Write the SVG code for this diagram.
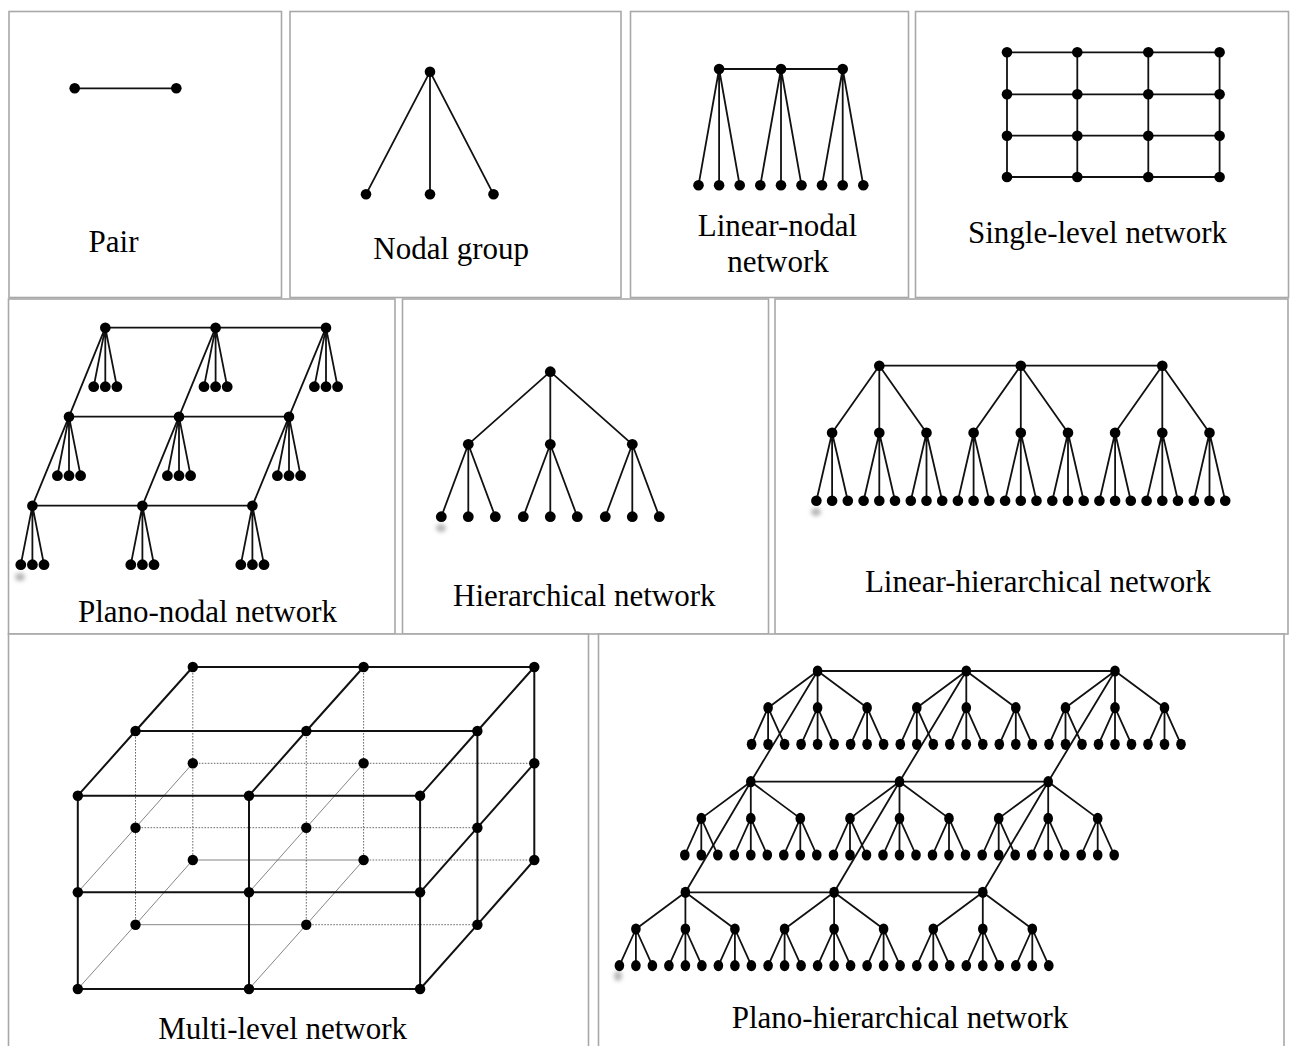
<svg xmlns="http://www.w3.org/2000/svg" xmlns:xlink="http://www.w3.org/1999/xlink" width="1293" height="1046" viewBox="0 0 1293 1046">
<style>
.panel{fill:#fff;stroke:#a8a8a8;stroke-width:1.6}
.e{fill:none;stroke:#111;stroke-width:1.8;stroke-linecap:round}
.eb{fill:none;stroke:#111;stroke-width:2;stroke-linecap:round}
.et{fill:none;stroke:#666;stroke-width:0.8}
.ed{fill:none;stroke:#444;stroke-width:0.8;stroke-dasharray:1.6 1.4}
.n{fill:#000}
.lbl{font-family:"Liberation Serif","Times New Roman",serif;font-size:31px;fill:#000;text-anchor:middle}
.smudge{fill:#b5b5b5;filter:url(#blur)}
</style>
<defs>
<filter id="blur" x="-1" y="-1" width="3" height="3"><feGaussianBlur stdDeviation="2"/></filter>
<g id="pn-fan">
<path class="e" d="M0,0 L-11.6,59 M0,0 V59 M0,0 L11.6,59"/>
<circle class="n" cx="0" cy="0" r="5.3"/>
<circle class="n" cx="-11.6" cy="59" r="5.4"/>
<circle class="n" cx="0" cy="59" r="5.4"/>
<circle class="n" cx="11.6" cy="59" r="5.4"/>
</g>
<g id="lh-tree">
<path class="e" d="M0,0 L-47.2,67 M0,0 V67 M0,0 L47.2,67 M-47.2,67 L-62.9,135 M-47.2,67 V135 M-47.2,67 L-31.5,135 M0,67 L-15.7,135 M0,67 V135 M0,67 L15.7,135 M47.2,67 L31.5,135 M47.2,67 V135 M47.2,67 L62.9,135"/>
<circle class="n" cx="0" cy="0" r="5.3"/>
<circle class="n" cx="-47.2" cy="67" r="5.3"/>
<circle class="n" cx="0" cy="67" r="5.3"/>
<circle class="n" cx="47.2" cy="67" r="5.3"/>
<circle class="n" cx="-62.9" cy="135" r="5.3"/>
<circle class="n" cx="-47.2" cy="135" r="5.3"/>
<circle class="n" cx="-31.5" cy="135" r="5.3"/>
<circle class="n" cx="-15.7" cy="135" r="5.3"/>
<circle class="n" cx="0" cy="135" r="5.3"/>
<circle class="n" cx="15.7" cy="135" r="5.3"/>
<circle class="n" cx="31.5" cy="135" r="5.3"/>
<circle class="n" cx="47.2" cy="135" r="5.3"/>
<circle class="n" cx="62.9" cy="135" r="5.3"/>
</g>
<g id="ph-tree">
<path class="e" d="M0,0 L-49.5,36.7 M0,0 V36.7 M0,0 L49.5,36.7 M-49.5,36.7 L-66,73.3 M-49.5,36.7 V73.3 M-49.5,36.7 L-33,73.3 M0,36.7 L-16.5,73.3 M0,36.7 V73.3 M0,36.7 L16.5,73.3 M49.5,36.7 L33,73.3 M49.5,36.7 V73.3 M49.5,36.7 L66,73.3"/>
<ellipse class="n" cx="0" cy="0" rx="4.8" ry="5.6"/>
<ellipse class="n" cx="-49.5" cy="36.7" rx="4.8" ry="5.6"/>
<ellipse class="n" cx="0" cy="36.7" rx="4.8" ry="5.6"/>
<ellipse class="n" cx="49.5" cy="36.7" rx="4.8" ry="5.6"/>
<ellipse class="n" cx="-66" cy="73.3" rx="4.8" ry="5.6"/>
<ellipse class="n" cx="-49.5" cy="73.3" rx="4.8" ry="5.6"/>
<ellipse class="n" cx="-33" cy="73.3" rx="4.8" ry="5.6"/>
<ellipse class="n" cx="-16.5" cy="73.3" rx="4.8" ry="5.6"/>
<ellipse class="n" cx="0" cy="73.3" rx="4.8" ry="5.6"/>
<ellipse class="n" cx="16.5" cy="73.3" rx="4.8" ry="5.6"/>
<ellipse class="n" cx="33" cy="73.3" rx="4.8" ry="5.6"/>
<ellipse class="n" cx="49.5" cy="73.3" rx="4.8" ry="5.6"/>
<ellipse class="n" cx="66" cy="73.3" rx="4.8" ry="5.6"/>
</g>
</defs>
<rect width="1293" height="1046" fill="#fff"/>

<g id="panels">
<rect class="panel" x="9" y="11.5" width="272.5" height="286"/>
<rect class="panel" x="290" y="11.5" width="331" height="286"/>
<rect class="panel" x="630.5" y="11.5" width="278" height="286"/>
<rect class="panel" x="915.5" y="11.5" width="373" height="286"/>
<rect class="panel" x="8.5" y="299" width="386.5" height="335"/>
<rect class="panel" x="402.5" y="299" width="366" height="335"/>
<rect class="panel" x="775" y="299" width="513" height="335"/>
<rect class="panel" x="8.5" y="634" width="580" height="420"/>
<rect class="panel" x="598.5" y="634" width="685.5" height="420"/>
</g>

<g id="connectors">
<path id="c-pair" class="e" d="M74.7,88.3 H176.3"/>
<path id="c-nodal" class="e" d="M430,71.7 L366,194.3 M430,71.7 V194.3 M430,71.7 L493.5,194.3"/>
<path id="c-linear-nodal" class="e" d="M719.1,69 H842.7 M719.1,69 L698.5,185.3 M719.1,69 V185.3 M719.1,69 L739.7,185.3 M781,69 L760.3,185.3 M781,69 V185.3 M781,69 L801.5,185.3 M842.7,69 L822,185.3 M842.7,69 V185.3 M842.7,69 L863.3,185.3"/>
<path id="c-single" class="e" d="M1007,52.3 H1219.6 M1007,94.3 H1219.6 M1007,135.7 H1219.6 M1007,177 H1219.6 M1007,52.3 V177 M1077.3,52.3 V177 M1148.3,52.3 V177 M1219.6,52.3 V177"/>
<path id="c-plano-nodal" class="e" d="M105.3,327.7 H326 M69,416.7 H289 M32.4,505.7 H252.4 M105.3,327.7 L69,416.7 L32.4,505.7 M215.6,327.7 L179,416.7 L142.4,505.7 M326,327.7 L289,416.7 L252.4,505.7"/>
<path id="c-hier" class="e" d="M550.3,371.7 L468.3,444.3 M550.3,371.7 V444.3 M550.3,371.7 L632.3,444.3 M468.3,444.3 L441.3,516.7 M468.3,444.3 V516.7 M468.3,444.3 L495.3,516.7 M550.3,444.3 L523.3,516.7 M550.3,444.3 V516.7 M550.3,444.3 L577.3,516.7 M632.3,444.3 L605.3,516.7 M632.3,444.3 V516.7 M632.3,444.3 L659.3,516.7"/>
<path id="c-linear-hier" class="e" d="M879.3,365.7 H1162.3"/>
<g id="c-multi">
<path class="ed" d="M192.8,763.3 H534.3 M363.6,860 H534.3 M135.5,827.7 H477.4 M306.3,924.7 H477.4 M192.8,667 V860 M363.6,667 V860 M135.5,731 V924.7 M306.3,731 V924.7"/>
<path class="et" d="M192.8,860 H363.6 M135.5,924.7 H306.3 M192.8,763.3 L135.5,827.7 L77.8,892.3 M363.6,763.3 L306.3,827.7 L249,892.3 M192.8,860 L135.5,924.7 L77.8,989 M363.6,860 L306.3,924.7 L249,989"/>
<path class="eb" d="M192.8,667 H534.3 M135.5,731 H477.4 M77.8,795.7 H420.1 M192.8,667 L135.5,731 L77.8,795.7 M363.6,667 L306.3,731 L249,795.7 M534.3,667 L477.4,731 L420.1,795.7 M77.8,795.7 V989 M249,795.7 V989 M420.1,795.7 V989 M77.8,892.3 H420.1 M77.8,989 H420.1 M534.3,667 V860 M477.4,731 V924.7 M534.3,763.3 L477.4,827.7 L420.1,892.3 M534.3,860 L477.4,924.7 L420.1,989"/>
</g>
<path id="c-plano-hier" class="e" d="M817.6,671 H1115 M750.8,781.7 H1048.2 M685.4,892.3 H982.8 M817.6,671 L750.8,781.7 L685.4,892.3 M966.3,671 L899.5,781.7 L834.1,892.3 M1115,671 L1048.2,781.7 L982.8,892.3"/>
</g>

<g id="node-pair">
<circle class="n" cx="74.7" cy="88.3" r="5.3"/>
<circle class="n" cx="176.3" cy="88.3" r="5.3"/>
</g>
<g id="node-nodal-group">
<circle class="n" cx="430" cy="71.7" r="5.3"/>
<circle class="n" cx="366" cy="194.3" r="5.3"/>
<circle class="n" cx="430" cy="194.3" r="5.3"/>
<circle class="n" cx="493.5" cy="194.3" r="5.3"/>
</g>
<g id="node-linear-nodal">
<circle class="n" cx="719.1" cy="69" r="5.3"/>
<circle class="n" cx="781" cy="69" r="5.3"/>
<circle class="n" cx="842.7" cy="69" r="5.3"/>
<circle class="n" cx="698.5" cy="185.3" r="5.3"/>
<circle class="n" cx="719.1" cy="185.3" r="5.3"/>
<circle class="n" cx="739.7" cy="185.3" r="5.3"/>
<circle class="n" cx="760.3" cy="185.3" r="5.3"/>
<circle class="n" cx="781" cy="185.3" r="5.3"/>
<circle class="n" cx="801.5" cy="185.3" r="5.3"/>
<circle class="n" cx="822" cy="185.3" r="5.3"/>
<circle class="n" cx="842.7" cy="185.3" r="5.3"/>
<circle class="n" cx="863.3" cy="185.3" r="5.3"/>
</g>
<g id="node-single-level">
<circle class="n" cx="1007" cy="52.3" r="5.3"/><circle class="n" cx="1077.3" cy="52.3" r="5.3"/><circle class="n" cx="1148.3" cy="52.3" r="5.3"/><circle class="n" cx="1219.6" cy="52.3" r="5.3"/>
<circle class="n" cx="1007" cy="94.3" r="5.3"/><circle class="n" cx="1077.3" cy="94.3" r="5.3"/><circle class="n" cx="1148.3" cy="94.3" r="5.3"/><circle class="n" cx="1219.6" cy="94.3" r="5.3"/>
<circle class="n" cx="1007" cy="135.7" r="5.3"/><circle class="n" cx="1077.3" cy="135.7" r="5.3"/><circle class="n" cx="1148.3" cy="135.7" r="5.3"/><circle class="n" cx="1219.6" cy="135.7" r="5.3"/>
<circle class="n" cx="1007" cy="177" r="5.3"/><circle class="n" cx="1077.3" cy="177" r="5.3"/><circle class="n" cx="1148.3" cy="177" r="5.3"/><circle class="n" cx="1219.6" cy="177" r="5.3"/>
</g>
<g id="node-plano-nodal">
<ellipse class="smudge" cx="20" cy="577" rx="5" ry="4"/>
<use href="#pn-fan" x="105.3" y="327.7"/>
<use href="#pn-fan" x="215.6" y="327.7"/>
<use href="#pn-fan" x="326" y="327.7"/>
<use href="#pn-fan" x="69" y="416.7"/>
<use href="#pn-fan" x="179" y="416.7"/>
<use href="#pn-fan" x="289" y="416.7"/>
<use href="#pn-fan" x="32.4" y="505.7"/>
<use href="#pn-fan" x="142.4" y="505.7"/>
<use href="#pn-fan" x="252.4" y="505.7"/>
</g>
<g id="node-hierarchical">
<ellipse class="smudge" cx="441" cy="528" rx="5" ry="4"/>
<circle class="n" cx="550.3" cy="371.7" r="5.4"/>
<circle class="n" cx="468.3" cy="444.3" r="5.4"/>
<circle class="n" cx="550.3" cy="444.3" r="5.4"/>
<circle class="n" cx="632.3" cy="444.3" r="5.4"/>
<circle class="n" cx="441.3" cy="516.7" r="5.4"/>
<circle class="n" cx="468.3" cy="516.7" r="5.4"/>
<circle class="n" cx="495.3" cy="516.7" r="5.4"/>
<circle class="n" cx="523.3" cy="516.7" r="5.4"/>
<circle class="n" cx="550.3" cy="516.7" r="5.4"/>
<circle class="n" cx="577.3" cy="516.7" r="5.4"/>
<circle class="n" cx="605.3" cy="516.7" r="5.4"/>
<circle class="n" cx="632.3" cy="516.7" r="5.4"/>
<circle class="n" cx="659.3" cy="516.7" r="5.4"/>
</g>
<g id="node-linear-hierarchical">
<ellipse class="smudge" cx="816" cy="512" rx="5" ry="4"/>
<use href="#lh-tree" x="879.3" y="365.7"/>
<use href="#lh-tree" x="1020.8" y="365.7"/>
<use href="#lh-tree" x="1162.3" y="365.7"/>
</g>
<g id="node-multi-level">
<circle class="n" cx="192.8" cy="667" r="5.2"/><circle class="n" cx="363.6" cy="667" r="5.2"/><circle class="n" cx="534.3" cy="667" r="5.2"/>
<circle class="n" cx="192.8" cy="763.3" r="5.2"/><circle class="n" cx="363.6" cy="763.3" r="5.2"/><circle class="n" cx="534.3" cy="763.3" r="5.2"/>
<circle class="n" cx="192.8" cy="860" r="5.2"/><circle class="n" cx="363.6" cy="860" r="5.2"/><circle class="n" cx="534.3" cy="860" r="5.2"/>
<circle class="n" cx="135.5" cy="731" r="5.2"/><circle class="n" cx="306.3" cy="731" r="5.2"/><circle class="n" cx="477.4" cy="731" r="5.2"/>
<circle class="n" cx="135.5" cy="827.7" r="5.2"/><circle class="n" cx="306.3" cy="827.7" r="5.2"/><circle class="n" cx="477.4" cy="827.7" r="5.2"/>
<circle class="n" cx="135.5" cy="924.7" r="5.2"/><circle class="n" cx="306.3" cy="924.7" r="5.2"/><circle class="n" cx="477.4" cy="924.7" r="5.2"/>
<circle class="n" cx="77.8" cy="795.7" r="5.2"/><circle class="n" cx="249" cy="795.7" r="5.2"/><circle class="n" cx="420.1" cy="795.7" r="5.2"/>
<circle class="n" cx="77.8" cy="892.3" r="5.2"/><circle class="n" cx="249" cy="892.3" r="5.2"/><circle class="n" cx="420.1" cy="892.3" r="5.2"/>
<circle class="n" cx="77.8" cy="989" r="5.2"/><circle class="n" cx="249" cy="989" r="5.2"/><circle class="n" cx="420.1" cy="989" r="5.2"/>
</g>
<g id="node-plano-hierarchical">
<ellipse class="smudge" cx="618" cy="976" rx="4" ry="5"/>
<use href="#ph-tree" x="817.6" y="671"/>
<use href="#ph-tree" x="966.3" y="671"/>
<use href="#ph-tree" x="1115" y="671"/>
<use href="#ph-tree" x="750.8" y="781.7"/>
<use href="#ph-tree" x="899.5" y="781.7"/>
<use href="#ph-tree" x="1048.2" y="781.7"/>
<use href="#ph-tree" x="685.4" y="892.3"/>
<use href="#ph-tree" x="834.1" y="892.3"/>
<use href="#ph-tree" x="982.8" y="892.3"/>
</g>

<g id="labels">
<text class="lbl" x="113.5" y="252">Pair</text>
<text class="lbl" x="451.2" y="259">Nodal group</text>
<text class="lbl" x="777.5" y="236">Linear-nodal</text>
<text class="lbl" x="778" y="271.7">network</text>
<text class="lbl" x="1097.5" y="243">Single-level network</text>
<text class="lbl" x="207.5" y="621.7">Plano-nodal network</text>
<text class="lbl" x="584.3" y="606">Hierarchical network</text>
<text class="lbl" x="1038" y="591.7">Linear-hierarchical network</text>
<text class="lbl" x="282.7" y="1039.3">Multi-level network</text>
<text class="lbl" x="900" y="1028.3">Plano-hierarchical network</text>
</g>
</svg>
